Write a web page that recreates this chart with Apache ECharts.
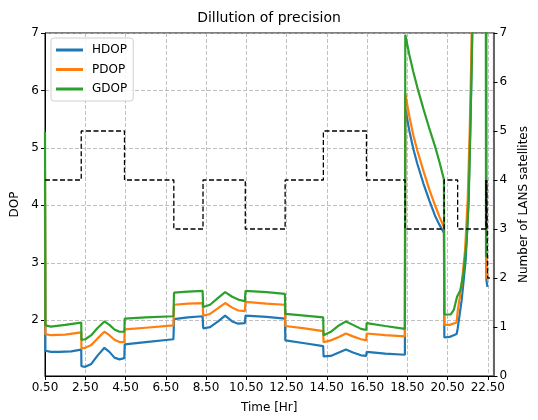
<!DOCTYPE html>
<html><head><meta charset="utf-8">
<script src="https://cdn.jsdelivr.net/npm/echarts@6/dist/echarts.min.js"></script>
<style>html,body{margin:0;padding:0;background:#fff}#c{width:538px;height:420px}</style>
</head><body><div id="c"></div>
<script>
// ---- data ----
const xTicks = [0.5, 2.5, 4.5, 6.5, 8.5, 10.5, 12.5, 14.5, 16.5, 18.5, 20.5, 22.5];
const dopTicks = [2, 3, 4, 5, 6, 7];
const satTicks = [0, 1, 2, 3, 4, 5, 6, 7];
const seriesNames = ['HDOP', 'PDOP', 'GDOP'];

const hdop = [
  [0.5, 4.0], [0.52, 1.47], [0.8, 1.45], [1.2, 1.45], [1.8, 1.46], [2.3, 1.49],
  [2.31, 1.20], [2.5, 1.19], [2.8, 1.24], [3.1, 1.38], [3.45, 1.52], [3.7, 1.45], [3.95, 1.35], [4.2, 1.32], [4.44, 1.34],
  [4.46, 1.58], [5.5, 1.62], [6.88, 1.67],
  [6.91, 2.02], [7.6, 2.05], [8.33, 2.07],
  [8.36, 1.86], [8.7, 1.88], [9.1, 1.98], [9.45, 2.08], [9.8, 1.98], [10.1, 1.94], [10.43, 1.95],
  [10.46, 2.08], [11.5, 2.06], [12.42, 2.03],
  [12.44, 1.65], [13.4, 1.60], [14.32, 1.55],
  [14.34, 1.37], [14.7, 1.38], [15.1, 1.44], [15.45, 1.49], [15.8, 1.44], [16.2, 1.39], [16.46, 1.38],
  [16.48, 1.45], [17.4, 1.42], [18.38, 1.40],
  [18.40, 5.69], [18.6, 5.30], [18.8, 4.98], [19.0, 4.72], [19.3, 4.38], [19.6, 4.08], [19.9, 3.80], [20.1, 3.66], [20.32, 3.52],
  [20.34, 1.70], [20.6, 1.71], [20.95, 1.76], [21.0, 1.85], [21.2, 2.35], [21.4, 3.05], [21.53, 4.0], [21.62, 5.2], [21.7, 6.5], [21.78, 8.5], [21.9, 12], [22.41, 14],
  [22.43, 2.70], [22.48, 2.58]
];
const pdop = [
  [0.5, 4.6], [0.52, 1.76], [0.8, 1.74], [1.5, 1.75], [2.3, 1.79],
  [2.31, 1.51], [2.5, 1.52], [2.8, 1.57], [3.1, 1.68], [3.45, 1.80], [3.7, 1.74], [3.95, 1.66], [4.2, 1.62], [4.44, 1.62],
  [4.46, 1.84], [5.5, 1.87], [6.88, 1.91],
  [6.91, 2.27], [7.6, 2.29], [8.33, 2.30],
  [8.36, 2.08], [8.7, 2.11], [9.1, 2.21], [9.45, 2.30], [9.8, 2.22], [10.1, 2.17], [10.43, 2.16],
  [10.46, 2.32], [11.5, 2.29], [12.42, 2.27],
  [12.44, 1.90], [13.4, 1.86], [14.32, 1.81],
  [14.34, 1.62], [14.7, 1.65], [15.1, 1.71], [15.45, 1.77], [15.8, 1.72], [16.2, 1.67], [16.46, 1.65],
  [16.48, 1.77], [17.4, 1.74], [18.38, 1.72],
  [18.40, 5.95], [18.6, 5.55], [18.8, 5.22], [19.0, 4.95], [19.3, 4.60], [19.6, 4.27], [19.9, 3.98], [20.1, 3.80], [20.32, 3.62],
  [20.34, 1.92], [20.6, 1.92], [20.95, 1.96], [21.0, 2.15], [21.2, 2.62], [21.37, 3.22], [21.5, 4.1], [21.6, 5.3], [21.68, 6.6], [21.76, 8.5], [21.9, 12], [22.40, 14],
  [22.42, 3.10], [22.47, 2.72]
];
const gdop = [
  [0.5, 5.28], [0.52, 1.91], [0.8, 1.89], [1.5, 1.92], [2.3, 1.96],
  [2.31, 1.66], [2.5, 1.67], [2.8, 1.74], [3.1, 1.86], [3.45, 1.98], [3.7, 1.92], [3.95, 1.84], [4.2, 1.80], [4.44, 1.80],
  [4.46, 2.03], [5.5, 2.05], [6.88, 2.07],
  [6.91, 2.48], [7.6, 2.50], [8.33, 2.51],
  [8.36, 2.23], [8.7, 2.27], [9.1, 2.39], [9.45, 2.49], [9.8, 2.41], [10.1, 2.36], [10.43, 2.33],
  [10.46, 2.51], [11.5, 2.49], [12.42, 2.46],
  [12.44, 2.11], [13.4, 2.08], [14.32, 2.05],
  [14.34, 1.74], [14.7, 1.80], [15.1, 1.91], [15.45, 1.98], [15.8, 1.92], [16.2, 1.85], [16.46, 1.83],
  [16.48, 1.95], [17.4, 1.90], [18.38, 1.85],
  [18.40, 6.97], [18.6, 6.62], [18.8, 6.32], [19.0, 6.05], [19.3, 5.68], [19.6, 5.33], [19.9, 5.00], [20.1, 4.75], [20.32, 4.45],
  [20.34, 2.10], [20.65, 2.10], [20.81, 2.18], [20.97, 2.41], [21.13, 2.52], [21.29, 2.81], [21.45, 3.39], [21.55, 4.09], [21.65, 5.6], [21.73, 7.0], [21.8, 9], [21.9, 12], [22.39, 14],
  [22.41, 3.10], [22.43, 3.10]
];
const sats = [
  [0.5, 4], [2.3, 5], [4.45, 4], [6.9, 3], [8.35, 4], [10.45, 3], [12.43, 4], [14.33, 5],
  [16.47, 4], [18.39, 3], [20.33, 4], [21.0, 3], [22.40, 4], [22.43, 3], [22.45, 4], [22.47, 3], [22.49, 2], [22.6, 2]
];

// ---- chart ----
const font = 'DejaVu Sans';
const colors = ['#1f77b4', '#ff7f0e', '#2ca02c'];
const chart = echarts.init(document.getElementById('c'), null, {renderer: 'canvas'});
const gridLine = {show: true, lineStyle: {color: '#b0b0b0', type: [4, 2], width: 0.8}};
const axisTxt = {fontFamily: font, fontSize: 12, color: '#000'};

const dopData = [hdop, pdop, gdop];
const series = dopData.map((d, i) => ({
  name: seriesNames[i], type: 'line', data: d, yAxisIndex: 0,
  showSymbol: false, symbol: 'none', z: 2 + i,
  lineStyle: {color: colors[i], width: 2.2}, itemStyle: {color: colors[i]},
  clip: true
}));
series.push({
  name: 'Satellites', type: 'line', data: sats, yAxisIndex: 1, step: 'end',
  showSymbol: false, symbol: 'none', z: 10,
  lineStyle: {color: '#000', width: 1.3, type: [5, 2.5]}, clip: true
});

chart.setOption({
  animation: false,
  color: colors,
  title: {text: 'Dillution of precision', left: 'center', top: 6,
    textStyle: {fontFamily: font, fontSize: 14, fontWeight: 'normal', color: '#000'}},
  grid: {left: 45, right: 32, top: 33, bottom: 44, show: true, borderColor: '#000', borderWidth: 1},
  legend: {
    data: seriesNames, orient: 'vertical', left: 51, top: 38,
    icon: 'rect', itemWidth: 27, itemHeight: 3, itemGap: 7.5,
    padding: [6, 6, 6, 5],
    backgroundColor: 'rgba(255,255,255,0.85)', borderColor: '#d0d0d0', borderWidth: 1, borderRadius: 3,
    textStyle: {fontFamily: font, fontSize: 12, color: '#000', padding: [0, 0, 0, 4]}
  },
  xAxis: {
    type: 'value', min: 0.5, max: 22.78, interval: 2,
    name: 'Time [Hr]', nameLocation: 'middle', nameGap: 26, nameTextStyle: axisTxt,
    axisLine: {show: true, onZero: false, lineStyle: {color: '#000', width: 1}},
    axisTick: {show: true, inside: false, length: 4, lineStyle: {color: '#000'}, customValues: xTicks},
    axisLabel: {customValues: xTicks, formatter: v => v.toFixed(2), margin: 6, ...axisTxt},
    splitLine: gridLine
  },
  yAxis: [
    {
      type: 'value', min: 1.03, max: 7, position: 'left',
      name: 'DOP', nameLocation: 'middle', nameGap: 24, nameRotate: 90, nameTextStyle: axisTxt,
      axisLine: {show: true, onZero: false, lineStyle: {color: '#000', width: 1}},
      axisTick: {show: true, length: 4, lineStyle: {color: '#000'}, customValues: dopTicks},
      axisLabel: {customValues: dopTicks, formatter: v => String(v), margin: 6, ...axisTxt},
      splitLine: gridLine
    },
    {
      type: 'value', min: 0, max: 7, interval: 1, position: 'right',
      name: 'Number of LANS satellites', nameLocation: 'middle', nameGap: 24, nameRotate: 90, nameTextStyle: axisTxt,
      axisLine: {show: true, onZero: false, lineStyle: {color: '#666', width: 2}},
      axisTick: {show: true, length: 4, lineStyle: {color: '#000'}, customValues: satTicks},
      axisLabel: {customValues: satTicks, formatter: v => String(v), margin: 6, ...axisTxt},
      splitLine: {show: false}
    }
  ],
  series: series
});
</script></body></html>
